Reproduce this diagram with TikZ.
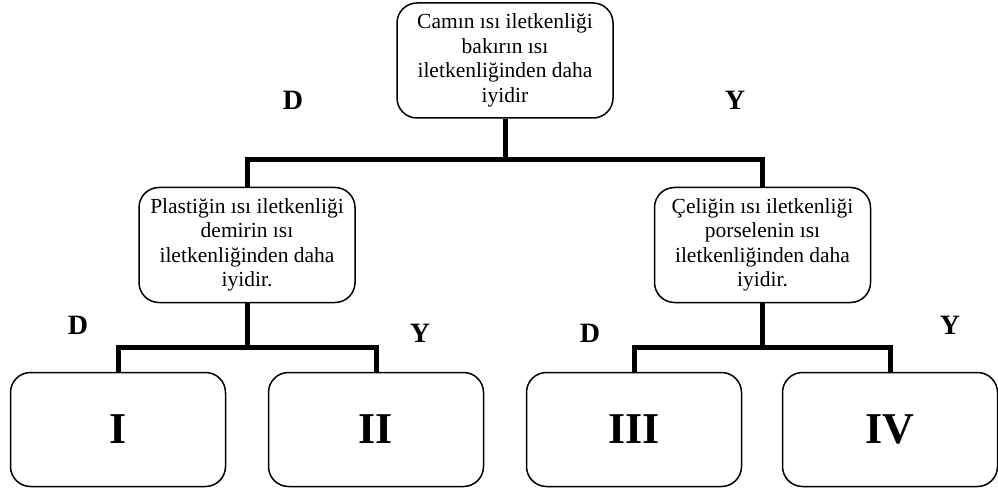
\documentclass[tikz,border=0pt]{standalone}
\usepackage{fontspec}
\setmainfont{Liberation Serif}
% multi-line centred question text, set slightly below the box centre
\newcommand{\qlines}[1]{\raisebox{-4pt}{\begin{tabular}{@{}c@{}}#1\end{tabular}}}
\begin{document}
\begin{tikzpicture}[x=1pt,y=1pt,
  qbox/.style={draw, line width=1.5pt, rounded corners=20pt, minimum width=216pt,
    minimum height=115pt, inner sep=0pt, align=center,
    font=\fontsize{21.5}{24.5}\selectfont},
  ansbox/.style={draw, line width=1.5pt, rounded corners=20pt, minimum width=215pt,
    minimum height=114pt, inner sep=0pt, font=\fontsize{44}{48}\selectfont\bfseries},
  bar/.style={line width=5pt, line join=miter},
  lbl/.style={font=\fontsize{28}{30}\selectfont\bfseries, inner sep=0pt}]
\useasboundingbox (0,0) rectangle (998,488);

% question boxes
\node[qbox] (q0) at (505,427.5) {\qlines{Camın ısı iletkenliği\\bakırın ısı\\iletkenliğinden daha\\iyidir}};
\node[qbox] (q1) at (247,243) {\qlines{Plastiğin ısı iletkenliği\\demirin ısı\\iletkenliğinden daha\\iyidir.}};
\node[qbox] (q2) at (762.5,243) {\qlines{Çeliğin ısı iletkenliği\\porselenin ısı\\iletkenliğinden daha\\iyidir.}};

% answer boxes
\node[ansbox] (a1) at (118,58.5) {I};
\node[ansbox] (a2) at (376,58.5) {II};
\node[ansbox] (a3) at (634,58.5) {III};
\node[ansbox] (a4) at (890,58.5) {IV};

% branch junctions
\coordinate (j0) at (505,328);
\coordinate (j1) at (247,141);
\coordinate (j2) at (762.5,141);

\draw[bar] (q0.south) -- (j0);
\draw[bar] (q1.north) |- (j0) -| (q2.north);
\draw[bar] (q1.south) -- (j1);
\draw[bar] (a1.north) |- (j1) -| (a2.north);
\draw[bar] (q2.south) -- (j2);
\draw[bar] (a3.north) |- (j2) -| (a4.north);

% D / Y labels
\node[lbl] (d0) at (293,388) {D};
\node[lbl] (y0) at (735,388) {Y};
\node[lbl] (d1) at (78,163) {D};
\node[lbl] (y1) at (420,155) {Y};
\node[lbl] (d2) at (590,155) {D};
\node[lbl] (y2) at (950,163) {Y};
\end{tikzpicture}
\end{document}
